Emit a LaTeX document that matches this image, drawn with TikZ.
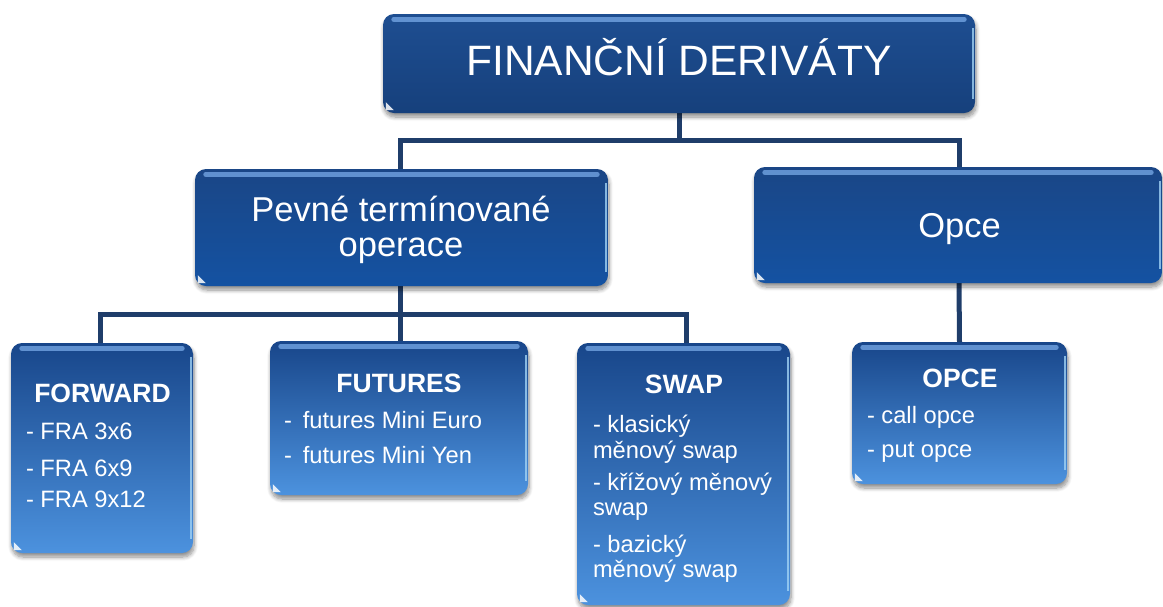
\documentclass[tikz,border=0pt]{standalone}
\usepackage{fontspec}
\setmainfont{Liberation Sans}
\usetikzlibrary{shadows.blur}
\pgfdeclarelayer{background}
\pgfsetlayers{background,main}

\definecolor{rootTop}{RGB}{30,78,145}
\definecolor{rootBot}{RGB}{22,64,124}
\definecolor{midTop}{RGB}{26,70,134}
\definecolor{midBot}{RGB}{20,82,162}
\definecolor{leafTop}{RGB}{24,70,138}
\definecolor{leafBot}{RGB}{76,146,222}
\definecolor{wire}{RGB}{31,61,106}
\definecolor{gloss}{RGB}{120,170,232}
\definecolor{rim}{RGB}{160,210,245}

\newcommand\fsRoot{\fontsize{42.5}{48}\selectfont}
\newcommand\fsMid{\fontsize{34.5}{40}\selectfont}
\newcommand\fsHead{\fontsize{26.5}{30}\selectfont\bfseries}
\newcommand\fsItem{\fontsize{23.7}{28}\selectfont}

\tikzset{
  box/.style={rounded corners=11pt, draw=none, inner sep=0pt,
    blur shadow={shadow xshift=1pt, shadow yshift=-4pt, shadow blur steps=8,
      shadow blur radius=4pt, shadow opacity=45}},
  rootbox/.style={box, top color=rootTop, bottom color=rootBot},
  midbox/.style={box, top color=midTop, bottom color=midBot},
  leafbox/.style={box, top color=leafTop, bottom color=leafBot},
  txt/.style={text=white, inner sep=0pt, outer sep=0pt},
  link/.style={draw=wire, line width=5pt},
}

% glossy band along the top, a light rim on the right and a small corner glint
\newcommand\shine[1]{%
  \draw[gloss, line width=5pt, line cap=round, opacity=0.75]
    ([xshift=11pt,yshift=-5.5pt]#1.north west) -- ([xshift=-11pt,yshift=-5.5pt]#1.north east);
  \draw[rim, line width=1.6pt, opacity=0.8]
    ([xshift=-2.5pt,yshift=-14pt]#1.north east) -- ([xshift=-2.5pt,yshift=14pt]#1.south east);
  \fill[white, opacity=0.85]
    ([xshift=3pt,yshift=3pt]#1.south west) -- ++(0pt,8pt) -- ++(8pt,-8pt) -- cycle;
}

\begin{document}
\begin{tikzpicture}[x=1pt, y=-1pt]
\useasboundingbox (0,0) rectangle (1163,606);

% boxes
\node[rootbox, minimum width=592pt, minimum height=99pt] (root) at (679,63.5) {};
\node[midbox, minimum width=413pt, minimum height=117pt] (fixed) at (401.5,227.5) {};
\node[midbox, minimum width=408pt, minimum height=116pt] (opt) at (958,225) {};
\node[leafbox, minimum width=182pt, minimum height=210pt] (fwd) at (102,448) {};
\node[leafbox, minimum width=258pt, minimum height=154pt] (fut) at (399,418) {};
\node[leafbox, minimum width=213pt, minimum height=262pt] (swp) at (683.5,474) {};
\node[leafbox, minimum width=215pt, minimum height=142pt] (opl) at (959.5,413) {};

\foreach \b in {root,fixed,opt,fwd,fut,swp,opl}{\shine{\b}}

% connectors
\coordinate (j1) at (679,140);
\coordinate (j2) at (400,314);
\begin{pgfonlayer}{background}
  \draw[link] (root.south) -- (j1);
  \draw[link] (j1) -| ([xshift=-1.5pt]fixed.north);
  \draw[link] (j1) -| ([xshift=1pt]opt.north);
  \draw[link] ([xshift=-1.5pt]fixed.south) -- (j2);
  \draw[link] (j2) -| ([xshift=-2pt]fwd.north);
  \draw[link] (j2) -| ([xshift=1pt]fut.north);
  \draw[link] (j2) -| ([xshift=2.5pt]swp.north);
  \draw[link] ([xshift=1pt]opt.south) -- ([xshift=0pt]opl.north);
\end{pgfonlayer}

% labels
\node[txt, anchor=base] (rootT) at (679,75.5) {\fsRoot FINANČNÍ DERIVÁTY};
\node[txt, anchor=base] (fixedT1) at (401,221.7) {\fsMid Pevné termínované};
\node[txt, anchor=base] (fixedT2) at (401,256.7) {\fsMid operace};
\node[txt, anchor=base] (optT) at (959.5,237.3) {\fsMid Opce};

\node[txt, anchor=base] (fwdH) at (102.5,402) {\fsHead FORWARD};
\node[txt, anchor=base west] (fwd1) at (26,439) {\fsItem - FRA 3x6};
\node[txt, anchor=base west] (fwd2) at (26,476) {\fsItem - FRA 6x9};
\node[txt, anchor=base west] (fwd3) at (26,507) {\fsItem - FRA 9x12};

\node[txt, anchor=base] (futH) at (399,392) {\fsHead FUTURES};
\node[txt, anchor=base west] (fut1) at (284,428) {\fsItem -\hspace{11pt}futures Mini Euro};
\node[txt, anchor=base west] (fut2) at (284,463) {\fsItem -\hspace{11pt}futures Mini Yen};

\node[txt, anchor=base] (swpH) at (684,393) {\fsHead SWAP};
\node[txt, anchor=base west] (swp1) at (593,432) {\fsItem - klasický};
\node[txt, anchor=base west] (swp2) at (593,458) {\fsItem měnový swap};
\node[txt, anchor=base west] (swp3) at (593,490) {\fsItem - křížový měnový};
\node[txt, anchor=base west] (swp4) at (593,515) {\fsItem swap};
\node[txt, anchor=base west] (swp5) at (593,552) {\fsItem - bazický};
\node[txt, anchor=base west] (swp6) at (593,577) {\fsItem měnový swap};

\node[txt, anchor=base] (oplH) at (960,387) {\fsHead OPCE};
\node[txt, anchor=base west] (opl1) at (867,423) {\fsItem - call opce};
\node[txt, anchor=base west] (opl2) at (867,457) {\fsItem - put opce};
\end{tikzpicture}
\end{document}
